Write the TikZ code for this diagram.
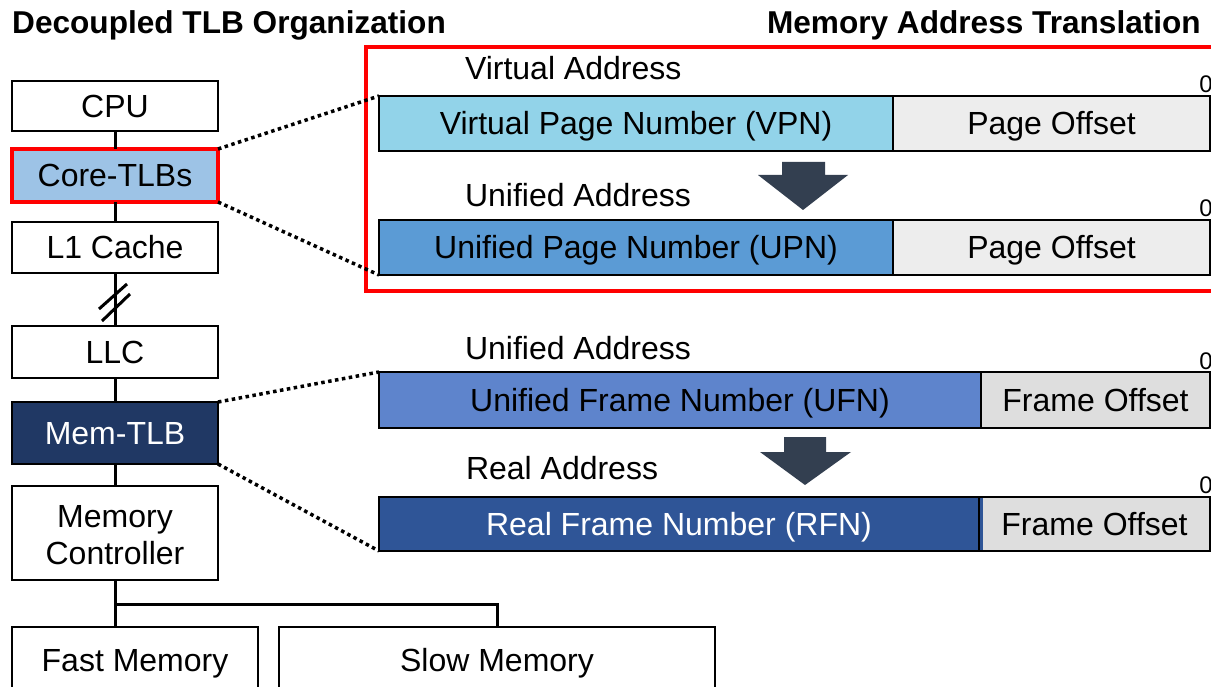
\documentclass[tikz,border=0pt]{standalone}
\usepackage{fontspec}
\setmainfont{Liberation Sans}
\newcommand\bodyfnt{\fontsize{32}{37}\selectfont}
\newcommand\titlefnt{\fontsize{31.6}{36}\selectfont\bfseries}
\newcommand\zerofnt{\fontsize{24}{28}\selectfont}
\definecolor{vpnc}{RGB}{146,211,233}
\definecolor{upnc}{RGB}{91,155,213}
\definecolor{ufnc}{RGB}{94,132,204}
\definecolor{rfnc}{RGB}{47,85,151}
\definecolor{offc}{RGB}{237,237,237}
\definecolor{foffc}{RGB}{222,222,222}
\definecolor{corec}{RGB}{157,195,230}
\definecolor{memc}{RGB}{32,56,100}
\definecolor{arrc}{RGB}{51,63,80}
\begin{document}
\begin{tikzpicture}[x=1pt,y=-1pt,
  capfix/.style={text height=23pt, text depth=0pt},
  box/.style={draw=black, line width=2pt, inner sep=0pt, outer sep=0pt, font=\bodyfnt, text=black, fill=white},
  bar/.style={box, capfix},
  lbl/.style={inner sep=0pt, outer sep=0pt, font=\bodyfnt, anchor=west, capfix},
  zero/.style={inner sep=0pt, font=\zerofnt, anchor=base east},
  conn/.style={draw=black, line width=3pt},
  dotline/.style={draw=black, line width=3.5pt, dash pattern=on 3.5pt off 3.5pt}]
\useasboundingbox (0,0) rectangle (1211,687);
\clip (0,0) rectangle (1211,687);
\fill[white] (0,0) rectangle (1211,687);

% titles
\node[inner sep=0pt, font=\titlefnt, anchor=west, text height=22.5pt, text depth=0pt] (t1) at (12,22) {Decoupled TLB Organization};
\node[inner sep=0pt, font=\titlefnt, anchor=east, text height=22.5pt, text depth=0pt] (t2) at (1201,22) {Memory Address Translation};

% left column
\node[bar, minimum width=206pt, minimum height=50pt] (cpu) at (115,106) {CPU};
\node[bar, draw=red, line width=4pt, fill=corec, minimum width=206pt, minimum height=53pt] (core) at (115,175.5) {Core-TLBs};
\node[bar, minimum width=206pt, minimum height=51pt] (l1) at (115,247.5) {L1 Cache};
\node[bar, minimum width=206pt, minimum height=52pt] (llc) at (115,352) {LLC};
\node[bar, fill=memc, text=white, minimum width=206pt, minimum height=62pt] (mem) at (115,433) {Mem-TLB};
\node[box, minimum width=206pt, minimum height=94pt] (mc) at (115,533) {};
\node[inner sep=0pt, font=\bodyfnt, align=center, yshift=-2.5pt] (mct) at (mc.center) {Memory\\Controller};
\node[box, minimum width=246pt, minimum height=100pt, anchor=north] (fast) at (135,627) {};
\node[lbl, anchor=center] (fastt) at (135,660) {Fast Memory};
\node[box, minimum width=436pt, minimum height=100pt, anchor=north] (slow) at (497,627) {};
\node[lbl, anchor=center] (slowt) at (497,660) {Slow Memory};

% vertical connectors
\draw[conn] (cpu.south) -- (core.north);
\draw[conn] (core.south) -- (l1.north);
\draw[conn] (l1.south) -- (llc.north);
\draw[conn] (99,309) -- (127,284);
\draw[conn] (102,321) -- (130,294);
\draw[conn] (llc.south) -- (mem.north);
\draw[conn] (mem.south) -- (mc.north);
\coordinate (bus) at (115,604);
\draw[conn] (mc.south) -- (mc.south |- fast.north);
\draw[conn] (bus) -| (slow.north);

% red frame
\draw[red, line width=4pt] (366,47) rectangle (1240,291);

% address bars
\node[lbl] (va) at (465,68) {Virtual Address};
\node[zero] (z1) at (1213,93) {0};
\node[bar, fill=vpnc, minimum width=514pt, minimum height=55pt] (vpn) at (636,123.5) {Virtual Page Number (VPN)};
\node[bar, fill=offc, minimum width=317pt, minimum height=55pt] (po1) at (1051.5,123.5) {Page Offset};

\fill[arrc] (782,162) -- (825,162) -- (825,175) -- (848,175) -- (803,210) -- (758,175) -- (782,175) -- cycle;

\node[lbl] (ua1) at (465,195) {Unified Address};
\node[zero] (z2) at (1213,217) {0};
\node[bar, fill=upnc, minimum width=514pt, minimum height=55pt] (upn) at (636,247.5) {Unified Page Number (UPN)};
\node[bar, fill=offc, minimum width=317pt, minimum height=55pt] (po2) at (1051.5,247.5) {Page Offset};

\node[lbl] (ua2) at (465,348) {Unified Address};
\node[zero] (z3) at (1213,369) {0};
\node[bar, fill=ufnc, minimum width=602pt, minimum height=56pt] (ufn) at (680,400) {Unified Frame Number (UFN)};
\node[bar, fill=foffc, minimum width=229pt, minimum height=56pt] (fo1) at (1095.5,400) {Frame Offset};

\fill[arrc] (784,437) -- (826,437) -- (826,452) -- (851,452) -- (805,485) -- (760,452) -- (784,452) -- cycle;

\node[lbl] (ra) at (466,468) {Real Address};
\node[zero] (z4) at (1213,493) {0};
\node[bar, fill=rfnc, text=white, minimum width=600pt, minimum height=54pt] (rfn) at (679,524) {Real Frame Number (RFN)};
\node[bar, fill=foffc, minimum width=231pt, minimum height=54pt] (fo2) at (1094.5,524) {Frame Offset};
\fill[rfnc] (980,498) rectangle (983,550);

% dotted zoom lines
\draw[dotline] (core.north east) -- (vpn.north west);
\draw[dotline] (core.south east) -- (upn.south west);
\draw[dotline] (mem.north east) -- (ufn.north west);
\draw[dotline] (mem.south east) -- (rfn.south west);
\end{tikzpicture}
\end{document}
